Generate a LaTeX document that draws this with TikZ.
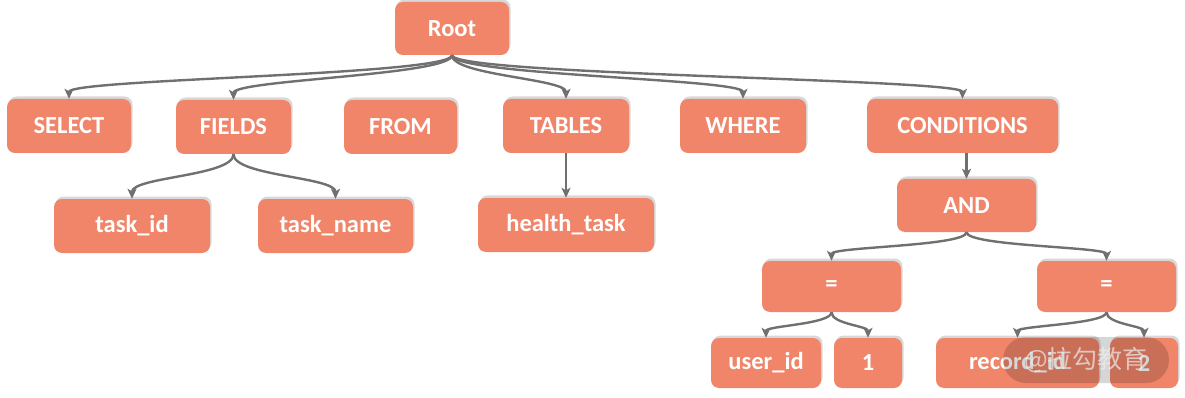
\documentclass[tikz,border=0pt]{standalone}
\usepackage{fontspec}
\setmainfont{Carlito}
\newfontfamily\cjk{Noto Sans CJK SC}
\usetikzlibrary{shadows,arrows.meta}
\definecolor{boxfill}{RGB}{240,133,106}
\definecolor{linegray}{RGB}{112,112,112}
\tikzset{
  tbox/.style={rectangle, rounded corners=8pt, fill=boxfill, text=white,
    inner sep=0pt, font=\fontsize{24.5}{27}\selectfont\bfseries,
    drop shadow={shadow xshift=1.5pt, shadow yshift=2.5pt, opacity=0.22, fill=black!70}},
  conn/.style={draw=linegray, line width=2.4pt,
    -{Stealth[length=10pt,width=9pt,inset=2.5pt]}},
}
\newcommand{\tb}[6]{\node[tbox, minimum width=#4pt, minimum height=#5pt] (#1) at (#2,#3) {#6};}
\begin{document}
\begin{tikzpicture}[x=1pt,y=-1pt]
\useasboundingbox (0,0) rectangle (1185,398);
\tb{Root}{452}{28.5}{114}{53}{Root}
\tb{SELECT}{69}{126}{124}{54}{SELECT}
\tb{FIELDS}{233.5}{127}{115}{54}{FIELDS}
\tb{FROM}{400.5}{127}{113}{54}{FROM}
\tb{TABLES}{566}{126}{126}{54}{TABLES}
\tb{WHERE}{743}{126}{126}{54}{WHERE}
\tb{COND}{962.5}{126}{191}{54}{CONDITIONS}
\tb{taskid}{132}{226}{156}{54}{task\_id}
\tb{taskname}{335.5}{226}{155}{54}{task\_name}
\tb{health}{566}{225}{176}{54}{health\_task}
\tb{AND}{966.5}{205.5}{139}{53}{AND}
\tb{eqL}{831.5}{286.5}{139}{51}{=}
\tb{eqR}{1106.5}{286.5}{139}{51}{=}
\tb{userid}{766}{363}{110}{50}{user\_id}
\tb{one}{868}{363}{68}{50}{1}
\tb{recordid}{1017.5}{363}{163}{50}{record\_id}
\tb{two}{1144}{363}{68}{50}{2}

\foreach \c in {SELECT,FIELDS,TABLES,WHERE,COND}
  \draw[conn] (Root.south) .. controls +(0,20) and +(0,-20) .. (\c.north);
\foreach \c in {taskid,taskname}
  \draw[conn] (FIELDS.south) .. controls +(0,22) and +(0,-22) .. (\c.north);
\draw[conn] (TABLES.south) -- (health.north);
\draw[conn] (AND.north |- COND.south) -- (AND.north);
\foreach \c in {eqL,eqR}
  \draw[conn] (AND.south) .. controls +(0,14) and +(0,-14) .. (\c.north);
\foreach \c in {userid,one}
  \draw[conn] (eqL.south) .. controls +(0,12) and +(0,-12) .. (\c.north);
\foreach \c in {recordid,two}
  \draw[conn] (eqR.south) .. controls +(0,12) and +(0,-12) .. (\c.north);

\node[rectangle, rounded corners=23pt, fill=black, fill opacity=0.16,
  text opacity=0.7, text=white!85!gray, minimum width=166pt, minimum height=46pt,
  font=\cjk\fontsize{25}{27}\selectfont] (wm) at (1086,360) {@拉勾教育};
\end{tikzpicture}
\end{document}
